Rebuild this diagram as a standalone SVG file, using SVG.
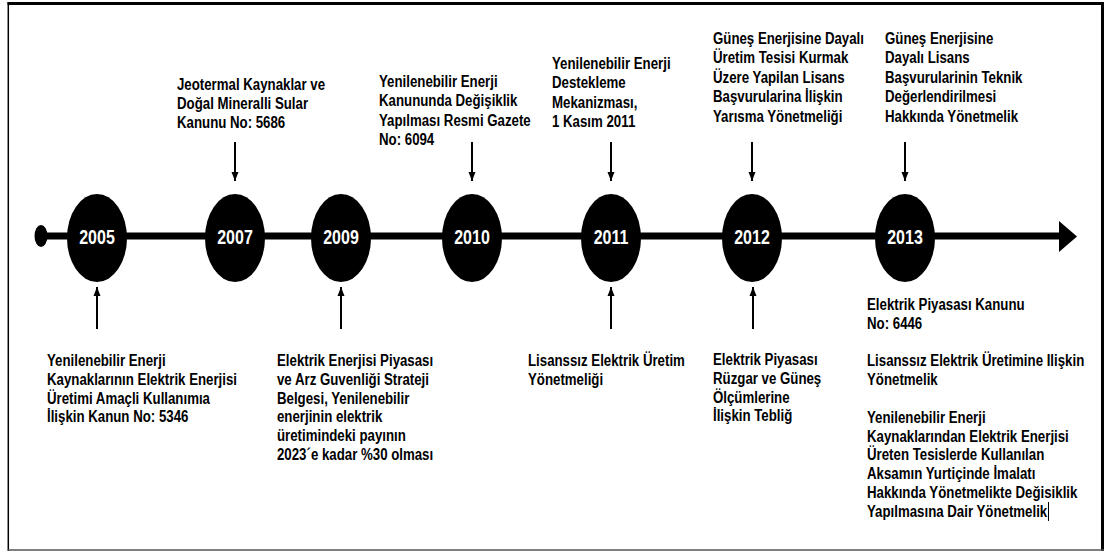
<svg xmlns="http://www.w3.org/2000/svg" width="1105" height="551" viewBox="0 0 1105 551">
<defs>
<style>
.t{font-family:"Liberation Sans",Arial,sans-serif;font-weight:bold;font-size:17px;fill:#000}
.y{font-family:"Liberation Sans",Arial,sans-serif;font-weight:bold;font-size:20px;fill:#fff;text-anchor:middle}
.node ellipse{fill:#000}
.arr{stroke:#000;stroke-width:2;fill:none;marker-end:url(#ah)}
</style>
<marker id="ah" markerUnits="userSpaceOnUse" markerWidth="10" markerHeight="10" viewBox="0 0 10 10" refX="9" refY="5" orient="auto">
<path d="M0,1.5 L9,5 L0,8.5 Z" fill="#000"/>
</marker>
</defs>
<rect width="1105" height="551" fill="#fff"/>
<g id="frame" fill="none">
<line x1="7.5" y1="3.5" x2="1104" y2="3.5" stroke="#000" stroke-width="3"/>
<line x1="8.3" y1="2" x2="8.3" y2="551" stroke="#000" stroke-width="1.5"/>
<line x1="1102.5" y1="2" x2="1102.5" y2="551" stroke="#000" stroke-width="3"/>
<line x1="8" y1="550" x2="1104" y2="550" stroke="#555" stroke-width="1.5"/>
</g>
<g id="timeline">
<ellipse cx="41" cy="236" rx="6.5" ry="11" fill="#000"/>
<line x1="41" y1="236" x2="1062" y2="236" stroke="#000" stroke-width="7"/>
<polygon points="1059,221 1077,236.5 1059,252" fill="#000"/>
</g>
<g id="connectors">
<line class="arr" x1="235" y1="142" x2="235" y2="181"/>
<line class="arr" x1="472" y1="142" x2="472" y2="181"/>
<line class="arr" x1="611" y1="142" x2="611" y2="181"/>
<line class="arr" x1="752" y1="142" x2="752" y2="181"/>
<line class="arr" x1="905" y1="142" x2="905" y2="181"/>
<line class="arr" x1="97" y1="329" x2="97" y2="287"/>
<line class="arr" x1="341" y1="329" x2="341" y2="287"/>
<line class="arr" x1="611" y1="329" x2="611" y2="287"/>
<line class="arr" x1="753" y1="329" x2="753" y2="287"/>
</g>
<g id="n2005" class="node"><ellipse cx="97" cy="238" rx="30" ry="44"/><text class="y" transform="translate(97 244) scale(0.8 1)">2005</text></g>
<g id="n2007" class="node"><ellipse cx="235" cy="238" rx="30" ry="44"/><text class="y" transform="translate(235 244) scale(0.8 1)">2007</text></g>
<g id="n2009" class="node"><ellipse cx="341" cy="238" rx="30" ry="44"/><text class="y" transform="translate(341 244) scale(0.8 1)">2009</text></g>
<g id="n2010" class="node"><ellipse cx="472" cy="238" rx="30" ry="44"/><text class="y" transform="translate(472 244) scale(0.8 1)">2010</text></g>
<g id="n2011" class="node"><ellipse cx="611" cy="238" rx="30" ry="44"/><text class="y" transform="translate(611 244) scale(0.8 1)">2011</text></g>
<g id="n2012" class="node"><ellipse cx="752" cy="238" rx="30" ry="44"/><text class="y" transform="translate(752 244) scale(0.8 1)">2012</text></g>
<g id="n2013" class="node"><ellipse cx="905" cy="238" rx="30" ry="44"/><text class="y" transform="translate(905 244) scale(0.8 1)">2013</text></g>
<g id="l2007"><text class="t" transform="translate(177 90) scale(0.78 1)"><tspan x="0" y="0">Jeotermal Kaynaklar ve</tspan><tspan x="0" dy="18.8">Doğal Mineralli Sular</tspan><tspan x="0" dy="18.8">Kanunu No: 5686</tspan></text></g>
<g id="l2010"><text class="t" transform="translate(379 87) scale(0.78 1)"><tspan x="0" y="0">Yenilenebilir Enerji</tspan><tspan x="0" dy="19.3">Kanununda Değişiklik</tspan><tspan x="0" dy="19.3">Yapılması Resmi Gazete</tspan><tspan x="0" dy="19.3">No: 6094</tspan></text></g>
<g id="l2011"><text class="t" transform="translate(552 69) scale(0.78 1)"><tspan x="0" y="0">Yenilenebilir Enerji</tspan><tspan x="0" dy="19.3">Destekleme</tspan><tspan x="0" dy="19.3">Mekanizması,</tspan><tspan x="0" dy="19.3">1 Kasım 2011</tspan></text></g>
<g id="l2012"><text class="t" transform="translate(713 44) scale(0.78 1)"><tspan x="0" y="0">Güneş Enerjisine Dayalı</tspan><tspan x="0" dy="19.5">Üretim Tesisi Kurmak</tspan><tspan x="0" dy="19.5">Üzere Yapilan Lisans</tspan><tspan x="0" dy="19.5">Başvurularina İlişkin</tspan><tspan x="0" dy="19.5">Yarısma Yönetmeliği</tspan></text></g>
<g id="l2013"><text class="t" transform="translate(885 44) scale(0.78 1)"><tspan x="0" y="0">Güneş Enerjisine</tspan><tspan x="0" dy="19.5">Dayalı Lisans</tspan><tspan x="0" dy="19.5">Başvurularinin Teknik</tspan><tspan x="0" dy="19.5">Değerlendirilmesi</tspan><tspan x="0" dy="19.5">Hakkında Yönetmelik</tspan></text></g>
<g id="b2005"><text class="t" transform="translate(47 366) scale(0.78 1)"><tspan x="0" y="0">Yenilenebilir Enerji</tspan><tspan x="0" dy="18.8">Kaynaklarının Elektrik Enerjisi</tspan><tspan x="0" dy="18.8">Üretimi Amaçli Kullanımıa</tspan><tspan x="0" dy="18.8">İlişkin Kanun No: 5346</tspan></text></g>
<g id="b2009"><text class="t" transform="translate(277 366) scale(0.78 1)"><tspan x="0" y="0">Elektrik Enerjisi Piyasası</tspan><tspan x="0" dy="18.8">ve Arz Guvenliği Strateji</tspan><tspan x="0" dy="18.8">Belgesi, Yenilenebilir</tspan><tspan x="0" dy="18.8">enerjinin elektrik</tspan><tspan x="0" dy="18.8">üretimindeki payının</tspan><tspan x="0" dy="18.8">2023´e kadar %30 olması</tspan></text></g>
<g id="b2011"><text class="t" transform="translate(528 366) scale(0.78 1)"><tspan x="0" y="0">Lisanssız Elektrik Üretim</tspan><tspan x="0" dy="18.8">Yönetmeliği</tspan></text></g>
<g id="b2012"><text class="t" transform="translate(713 365) scale(0.78 1)"><tspan x="0" y="0">Elektrik Piyasası</tspan><tspan x="0" dy="18.8">Rüzgar ve Güneş</tspan><tspan x="0" dy="18.8">Ölçümlerine</tspan><tspan x="0" dy="18.8">İlişkin Tebliğ</tspan></text></g>
<g id="b2013"><text class="t" transform="translate(867 310) scale(0.78 1)"><tspan x="0" y="0">Elektrik Piyasası Kanunu</tspan><tspan x="0" dy="18.8">No: 6446</tspan><tspan x="0" dy="37.6">Lisanssız Elektrik Üretimine Ilişkin</tspan><tspan x="0" dy="18.8">Yönetmelik</tspan><tspan x="0" dy="37.6">Yenilenebilir Enerji</tspan><tspan x="0" dy="18.8">Kaynaklarından Elektrik Enerjisi</tspan><tspan x="0" dy="18.8">Üreten Tesislerde Kullanılan</tspan><tspan x="0" dy="18.8">Aksamın Yurtiçinde İmalatı</tspan><tspan x="0" dy="18.8">Hakkında Yönetmelikte Değisiklik</tspan><tspan x="0" dy="18.8">Yapılmasına Dair Yönetmelik</tspan></text>
<line x1="1048.5" y1="502" x2="1048.5" y2="521" stroke="#000" stroke-width="1"/></g>
</svg>
